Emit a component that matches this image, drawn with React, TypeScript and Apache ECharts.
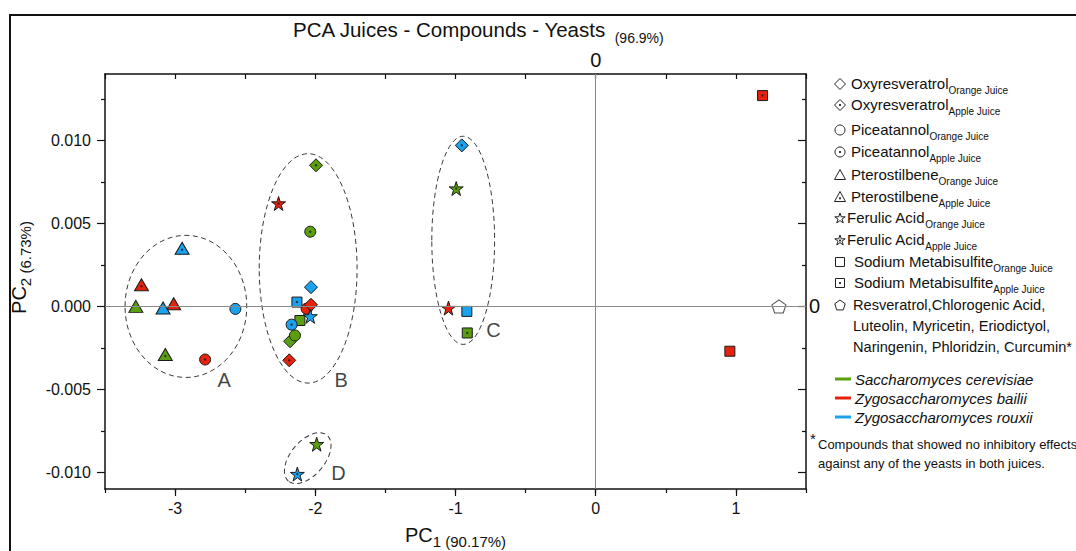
import React, { useEffect, useRef } from "react";
import * as echarts from "echarts";

type Pt = [number, number, string, string];

const FONT = "'Liberation Sans', Arial, Helvetica, sans-serif";

// ---------- data ----------
const cerevisiaePoints: Pt[] = [
  [-3.28, 0.0, "Pterostilbene", "Orange Juice"],
  [-3.07, -0.0029, "Pterostilbene", "Apple Juice"],
  [-1.995, 0.0085, "Oxyresveratrol", "Apple Juice"],
  [-2.036, 0.0045, "Piceatannol", "Apple Juice"],
  [-2.18, -0.0021, "Oxyresveratrol", "Orange Juice"],
  [-2.145, -0.00175, "Piceatannol", "Orange Juice"],
  [-2.11, -0.00085, "Sodium Metabisulfite", "Orange Juice"],
  [-0.995, 0.0071, "Ferulic Acid", "Apple Juice"],
  [-0.916, -0.0016, "Sodium Metabisulfite", "Apple Juice"],
  [-1.99, -0.0083, "Ferulic Acid", "Orange Juice"],
];

const bailiiPoints: Pt[] = [
  [-3.24, 0.0013, "Pterostilbene", "Apple Juice"],
  [-3.01, 0.00016, "Pterostilbene", "Orange Juice"],
  [-2.786, -0.0032, "Piceatannol", "Apple Juice"],
  [-2.262, 0.0062, "Ferulic Acid", "Apple Juice"],
  [-2.062, -0.00014, "Piceatannol", "Orange Juice"],
  [-2.031, 0.0001, "Oxyresveratrol", "Orange Juice"],
  [-2.186, -0.00325, "Oxyresveratrol", "Apple Juice"],
  [-1.05, -0.0001, "Ferulic Acid", "Orange Juice"],
  [1.19, 0.0127, "Sodium Metabisulfite", "Apple Juice"],
  [0.957, -0.0027, "Sodium Metabisulfite", "Orange Juice"],
];

const rouxiiPoints: Pt[] = [
  [-2.95, 0.0035, "Pterostilbene", "Apple Juice"],
  [-3.086, -0.0001, "Pterostilbene", "Orange Juice"],
  [-2.57, -0.00015, "Piceatannol", "Orange Juice"],
  [-2.031, 0.00116, "Oxyresveratrol", "Orange Juice"],
  [-2.131, 0.00026, "Sodium Metabisulfite", "Apple Juice"],
  [-2.169, -0.0011, "Piceatannol", "Apple Juice"],
  [-2.036, -0.0006, "Ferulic Acid", "Orange Juice"],
  [-0.955, 0.0097, "Oxyresveratrol", "Apple Juice"],
  [-0.919, -0.0003, "Sodium Metabisulfite", "Orange Juice"],
  [-2.128, -0.0101, "Ferulic Acid", "Apple Juice"],
];

const inactivePoints: [number, number][] = [[1.307, 0.0]];

// cluster ellipses: [centerX, centerY, semiAxisX, semiAxisY, rotationDeg]
const clusterEllipses: [number, number, number, number, number][] = [
  [-2.923, 0.0, 0.434, 0.00428, 0],
  [-2.051, 0.00229, 0.349, 0.00691, 0],
  [-0.945, 0.00398, 0.224, 0.00627, 0],
  [-2.054, -0.00914, 0.214, 0.00103, 50],
];
const clusterLabels: [number, number, string][] = [
  [-2.65, -0.00446, "A"],
  [-1.816, -0.00442, "B"],
  [-0.729, -0.0014, "C"],
  [-1.834, -0.01004, "D"],
];

const xMajorTicks = [-3, -2, -1, 0, 1];
const yMajorTicks = [-0.01, -0.005, 0, 0.005, 0.01];
const yMinorTicks = [-0.0075, -0.0025, 0.0025, 0.0075, 0.0125];

const yeastNames = ["Saccharomyces cerevisiae", "Zygosaccharomyces bailii", "Zygosaccharomyces rouxii"];
const yeastColors = ["#5c9e12", "#e4220e", "#1aa2ef"];
const yeastPoints = [cerevisiaePoints, bailiiPoints, rouxiiPoints];

const inactiveCompoundsText = [
  "Resveratrol,Chlorogenic Acid,",
  "Luteolin, Myricetin, Eriodictyol,",
  "Naringenin, Phloridzin, Curcumin*",
];

// ---------- symbols ----------
const STAR_PATH =
  "path://M50 0 L61.23 34.55 L97.55 34.55 L68.17 55.9 L79.39 90.45 L50 69.1 L20.61 90.45 L31.83 55.9 L2.45 34.55 L38.77 34.55 Z";
const PENTAGON_PATH = "path://M50 0 L97.55 34.55 L79.39 90.45 L20.61 90.45 L2.45 34.55 Z";

const symbolOf: Record<string, string> = {
  Oxyresveratrol: "diamond",
  Piceatannol: "circle",
  Pterostilbene: "triangle",
  "Ferulic Acid": STAR_PATH,
  "Sodium Metabisulfite": "rect",
};
const sizeOf: Record<string, number | number[]> = {
  Oxyresveratrol: 13,
  Piceatannol: 11,
  Pterostilbene: [14, 12],
  "Ferulic Acid": 14,
  "Sodium Metabisulfite": 10,
};

const starTpl = [
  [50, 0], [61.23, 34.55], [97.55, 34.55], [68.17, 55.9], [79.39, 90.45],
  [50, 69.1], [20.61, 90.45], [31.83, 55.9], [2.45, 34.55], [38.77, 34.55],
];
const pentTpl = [[50, 0], [97.55, 34.55], [79.39, 90.45], [20.61, 90.45], [2.45, 34.55]];

function legendSymbol(kind: string, cx: number, cy: number, dotted: boolean): any[] {
  const style = { fill: "#fff", stroke: "#222", lineWidth: 1 };
  const els: any[] = [];
  const scaleTpl = (tpl: number[][], s: number) =>
    tpl.map(([px, py]) => [cx - s / 2 + (px * s) / 100, cy - s / 2 + (py * s) / 100 + 0.5]);
  if (kind === "diamond") {
    els.push({ type: "polygon", shape: { points: [[cx, cy - 5.5], [cx + 5.5, cy], [cx, cy + 5.5], [cx - 5.5, cy]] }, style });
  } else if (kind === "circle") {
    els.push({ type: "circle", shape: { cx, cy, r: 5 }, style });
  } else if (kind === "triangle") {
    els.push({ type: "polygon", shape: { points: [[cx, cy - 5.5], [cx + 5.5, cy + 4.5], [cx - 5.5, cy + 4.5]] }, style });
  } else if (kind === "star") {
    els.push({ type: "polygon", shape: { points: scaleTpl(starTpl, 11) }, style });
  } else if (kind === "rect") {
    els.push({ type: "rect", shape: { x: cx - 4.5, y: cy - 4.5, width: 9, height: 9 }, style });
  } else if (kind === "pentagon") {
    els.push({ type: "polygon", shape: { points: scaleTpl(pentTpl, 11) }, style });
  }
  if (dotted) {
    els.push({
      type: "circle",
      shape: { cx, cy: kind === "triangle" ? cy + 1.3 : cy + (kind === "star" ? 0.5 : 0), r: 1.1 },
      style: { fill: "#222" },
    });
  }
  return els;
}

const legendRich = {
  m: { fontSize: 15, fontFamily: FONT, lineHeight: 18, verticalAlign: "bottom", fill: "#111", padding: [0, 0, 4, 0] },
  s: { fontSize: 10, fontFamily: FONT, lineHeight: 6, verticalAlign: "bottom", fill: "#111" },
};

const nameRich = {
  a: { fontSize: 20, fontFamily: FONT, lineHeight: 24, verticalAlign: "bottom", color: "#111", padding: [0, 0, 4, 0] },
  b: { fontSize: 15, fontFamily: FONT, lineHeight: 10, verticalAlign: "bottom", color: "#111" },
};

export default function App() {
  const ref = useRef<HTMLDivElement>(null);

  useEffect(() => {
    if (!ref.current) return;
    const chart = echarts.init(ref.current, undefined, { renderer: "svg" });

    const legendRows = [
      { name: "Oxyresveratrol", juice: "Orange Juice", kind: "diamond", y: 84, tx: 851 },
      { name: "Oxyresveratrol", juice: "Apple Juice", kind: "diamond", y: 105, tx: 851 },
      { name: "Piceatannol", juice: "Orange Juice", kind: "circle", y: 130, tx: 851 },
      { name: "Piceatannol", juice: "Apple Juice", kind: "circle", y: 152, tx: 851 },
      { name: "Pterostilbene", juice: "Orange Juice", kind: "triangle", y: 175, tx: 851 },
      { name: "Pterostilbene", juice: "Apple Juice", kind: "triangle", y: 197, tx: 851 },
      { name: "Ferulic Acid", juice: "Orange Juice", kind: "star", y: 218, tx: 847 },
      { name: "Ferulic Acid", juice: "Apple Juice", kind: "star", y: 240, tx: 847 },
      { name: "Sodium Metabisulfite", juice: "Orange Juice", kind: "rect", y: 262, tx: 854 },
      { name: "Sodium Metabisulfite", juice: "Apple Juice", kind: "rect", y: 283, tx: 854 },
    ];

    const graphicEls: any[] = [];
    // outer frame
    graphicEls.push({
      type: "rect",
      z: -10,
      shape: { x: 10, y: 15, width: 1200, height: 700 },
      style: { fill: "none", stroke: "#111", lineWidth: 2 },
    });
    // title
    graphicEls.push({
      type: "text",
      x: 293,
      y: 33,
      style: {
        text: "{a|PCA Juices - Compounds - Yeasts}{b|(96.9%)}",
        align: "left",
        verticalAlign: "middle",
        rich: {
          a: { fontSize: 20.5, fontFamily: FONT, lineHeight: 24, verticalAlign: "bottom", fill: "#111", padding: [0, 0, 5, 0] },
          b: { fontSize: 14, fontFamily: FONT, lineHeight: 8, verticalAlign: "bottom", fill: "#111", padding: [0, 0, 0, 8] },
        },
      },
    });
    legendRows.forEach((r) => {
      graphicEls.push(...legendSymbol(r.kind, 840, r.y, r.juice === "Apple Juice"));
      graphicEls.push({
        type: "text",
        x: r.tx,
        y: r.y + 2,
        style: {
          text: `{m|${r.name}}{s|${r.juice}}`,
          align: "left",
          verticalAlign: "middle",
          rich: legendRich,
        },
      });
    });
    graphicEls.push(...legendSymbol("pentagon", 840, 305, false));
    inactiveCompoundsText.forEach((t, i) => {
      graphicEls.push({
        type: "text",
        x: 853,
        y: 305 + i * 21,
        style: { text: t, fontSize: 14.6, fontFamily: FONT, fill: "#111", align: "left", verticalAlign: "middle" },
      });
    });
    yeastNames.forEach((n, i) => {
      const y = 379 + i * 19;
      graphicEls.push({
        type: "line",
        shape: { x1: 835, y1: y, x2: 851, y2: y },
        style: { stroke: yeastColors[i], lineWidth: 3 },
      });
      graphicEls.push({
        type: "text",
        x: 855,
        y,
        style: { text: n, fontSize: 15, fontStyle: "italic", fontFamily: FONT, fill: "#111", align: "left", verticalAlign: "middle" },
      });
    });
    graphicEls.push({
      type: "text",
      x: 810,
      y: 438,
      style: { text: "*", fontSize: 15, fontFamily: FONT, fill: "#111", align: "left", verticalAlign: "middle" },
    });
    graphicEls.push({
      type: "text",
      x: 818,
      y: 444,
      style: {
        text: "Compounds that showed no inhibitory effects",
        fontSize: 13,
        fontFamily: FONT,
        fill: "#111",
        align: "left",
        verticalAlign: "middle",
      },
    });
    graphicEls.push({
      type: "text",
      x: 818,
      y: 463,
      style: {
        text: "against any of the yeasts in both juices.",
        fontSize: 13,
        fontFamily: FONT,
        fill: "#111",
        align: "left",
        verticalAlign: "middle",
      },
    });

    const axisLineStyle = { color: "#111", width: 1.5 };
    const tickStyle = { color: "#111", width: 1.2 };
    const xRange = { min: -3.5, max: 1.5 };
    const yRange = { min: -0.011, max: 0.014 };

    const scatterSeries = yeastPoints.map((pts, i) => ({
      type: "scatter",
      name: yeastNames[i],
      xAxisIndex: 0,
      yAxisIndex: 0,
      z: 3,
      data: pts.map((p) => ({
        value: [p[0], p[1]],
        symbol: symbolOf[p[2]],
        symbolSize: sizeOf[p[2]],
      })),
      itemStyle: { color: yeastColors[i], borderColor: "#1a1a1a", borderWidth: 1, opacity: 1 },
    }));

    const appleDots: any[] = [];
    yeastPoints.forEach((pts) =>
      pts.forEach((p) => {
        if (p[3] === "Apple Juice") {
          appleDots.push({
            value: [p[0], p[1]],
            symbolOffset: p[2] === "Pterostilbene" ? [0, 1.5] : [0, 0],
          });
        }
      })
    );

    const option: any = {
      animation: false,
      backgroundColor: "#fff",
      textStyle: { fontFamily: FONT },
      grid: { left: 105, top: 74, right: 270, bottom: 62, containLabel: false, outerBoundsMode: "none" },
      graphic: { elements: graphicEls },
      xAxis: [
        {
          type: "value",
          position: "bottom",
          ...xRange,
          splitLine: { show: false },
          axisLine: { onZero: false, lineStyle: axisLineStyle },
          axisTick: { customValues: xMajorTicks, length: 7, lineStyle: tickStyle },
          axisLabel: { customValues: xMajorTicks, fontSize: 16, margin: 11, color: "#111", fontFamily: FONT },
          name: "{a|PC}{b|1 (90.17%)}",
          nameLocation: "middle",
          nameGap: 36,
          nameTextStyle: { rich: nameRich },
        },
        {
          type: "value",
          position: "bottom",
          ...xRange,
          interval: 0.5,
          splitLine: { show: false },
          axisLine: { show: false, onZero: false },
          axisTick: { length: 4, lineStyle: tickStyle },
          axisLabel: { show: false },
        },
        {
          type: "value",
          position: "top",
          ...xRange,
          interval: 0.5,
          splitLine: { show: false },
          axisLine: { onZero: false, lineStyle: axisLineStyle },
          axisTick: { inside: true, length: 5, lineStyle: tickStyle },
          axisLabel: { customValues: [0], fontSize: 20, margin: 4, color: "#111", fontFamily: FONT },
        },
      ],
      yAxis: [
        {
          type: "value",
          position: "left",
          ...yRange,
          splitLine: { show: false },
          axisLine: { onZero: false, lineStyle: axisLineStyle },
          axisTick: { customValues: yMajorTicks, length: 8, lineStyle: tickStyle },
          axisLabel: {
            customValues: yMajorTicks,
            fontSize: 16,
            margin: 14,
            color: "#111",
            fontFamily: FONT,
            formatter: (v: number) => v.toFixed(3),
          },
          name: "{a|PC}{b|2 (6.73%)}",
          nameLocation: "middle",
          nameRotate: 90,
          nameGap: 72,
          nameTextStyle: { rich: nameRich, padding: [0, 0, 0, 28] },
        },
        {
          type: "value",
          position: "left",
          ...yRange,
          splitLine: { show: false },
          axisLine: { show: false, onZero: false },
          axisTick: { customValues: yMinorTicks, length: 4, lineStyle: tickStyle },
          axisLabel: { show: false },
        },
        {
          type: "value",
          position: "right",
          ...yRange,
          splitLine: { show: false },
          axisLine: { onZero: false, lineStyle: axisLineStyle },
          axisTick: { customValues: yMajorTicks, inside: true, length: 8, lineStyle: tickStyle },
          axisLabel: { customValues: [0], fontSize: 20, margin: 3, color: "#111", fontFamily: FONT },
        },
        {
          type: "value",
          position: "right",
          ...yRange,
          splitLine: { show: false },
          axisLine: { show: false, onZero: false },
          axisTick: { customValues: yMinorTicks, inside: true, length: 4, lineStyle: tickStyle },
          axisLabel: { show: false },
        },
      ],
      series: [
        {
          type: "scatter",
          name: "zero lines",
          xAxisIndex: 0,
          yAxisIndex: 0,
          z: 1,
          data: [],
          silent: true,
          markLine: {
            silent: true,
            symbol: "none",
            label: { show: false },
            lineStyle: { color: "#8a8a8a", width: 1, type: "solid" },
            data: [{ xAxis: 0 }, { yAxis: 0 }],
          },
        },
        {
          type: "custom",
          name: "clusters",
          xAxisIndex: 0,
          yAxisIndex: 0,
          z: 2,
          silent: true,
          clip: false,
          data: clusterEllipses,
          encode: { x: 0, y: 1 },
          renderItem: (_params: any, api: any) => {
            const c = api.coord([api.value(0), api.value(1)]);
            const s = api.size([api.value(2), api.value(3)]);
            return {
              type: "ellipse",
              x: c[0],
              y: c[1],
              rotation: (api.value(4) * Math.PI) / 180,
              shape: { cx: 0, cy: 0, rx: s[0], ry: s[1] },
              style: { fill: "none", stroke: "#3a3a3a", lineWidth: 1, lineDash: [5, 3.5] },
            };
          },
        },
        ...scatterSeries,
        {
          type: "scatter",
          name: "inactive compounds",
          xAxisIndex: 0,
          yAxisIndex: 0,
          z: 3,
          data: inactivePoints,
          symbol: PENTAGON_PATH,
          symbolSize: [14, 13],
          itemStyle: { color: "#fff", borderColor: "#222", borderWidth: 1 },
        },
        {
          type: "scatter",
          name: "apple juice marks",
          xAxisIndex: 0,
          yAxisIndex: 0,
          z: 4,
          silent: true,
          data: appleDots,
          symbol: "circle",
          symbolSize: 2.4,
          itemStyle: { color: "#1a1a1a" },
        },
        {
          type: "scatter",
          name: "cluster labels",
          xAxisIndex: 0,
          yAxisIndex: 0,
          z: 5,
          silent: true,
          data: clusterLabels,
          symbolSize: 1,
          itemStyle: { color: "transparent" },
          label: {
            show: true,
            position: "inside",
            formatter: (p: any) => p.value[2],
            fontSize: 20,
            color: "#111",
            fontFamily: FONT,
          },
        },
      ],
    };

    chart.setOption(option);
    return () => chart.dispose();
  }, []);

  return (
    <div
      ref={ref}
      style={{ position: "fixed", left: 0, top: 0, width: 1076, height: 551, background: "#fff" }}
    />
  );
}
